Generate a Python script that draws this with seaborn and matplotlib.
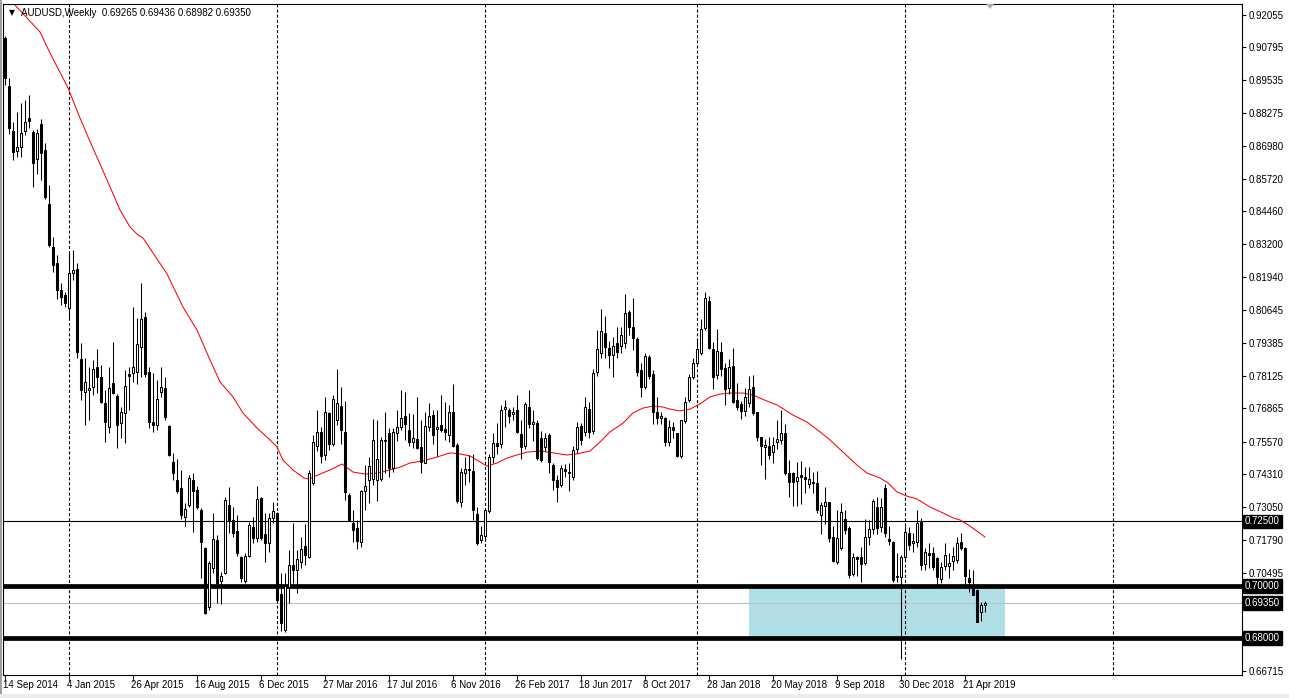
import matplotlib
matplotlib.use("Agg")
import numpy as np
import pandas as pd
import matplotlib.pyplot as plt
import seaborn as sns
from matplotlib.patches import Rectangle, Polygon
from matplotlib.transforms import blended_transform_factory

# ---------------- data ----------------
start_date = "2014-09-14"

opens = [
    0.9116, 0.8930, 0.8757, 0.8680, 0.8695, 0.8757, 0.8807, 0.8753, 0.8649, 0.8784,
    0.8683, 0.8475, 0.8309, 0.8247, 0.8143, 0.8124, 0.8073, 0.8208, 0.8224, 0.7876,
    0.7749, 0.7758, 0.7768, 0.7846, 0.7807, 0.7707, 0.7614, 0.7784, 0.7734, 0.7629,
    0.7668, 0.7819, 0.7822, 0.7826, 0.7923, 0.8039, 0.7826, 0.7633, 0.7622, 0.7749,
    0.7764, 0.7618, 0.7479, 0.7409, 0.7378, 0.7266, 0.7313, 0.7409, 0.7371, 0.7293,
    0.7147, 0.6919, 0.7069, 0.7178, 0.7019, 0.7050, 0.7313, 0.7255, 0.7212, 0.7112,
    0.7019, 0.7116, 0.7228, 0.7185, 0.7340, 0.7201, 0.7166, 0.7263, 0.7282, 0.6969,
    0.6830, 0.6996, 0.7081, 0.7062, 0.7093, 0.7154, 0.7112, 0.7398, 0.7541, 0.7595,
    0.7506, 0.7668, 0.7548, 0.7640, 0.7695, 0.7595, 0.7351, 0.7243, 0.7224, 0.7170,
    0.7367, 0.7409, 0.7413, 0.7409, 0.7413, 0.7560, 0.7591, 0.7456, 0.7591, 0.7614,
    0.7656, 0.7602, 0.7556, 0.7568, 0.7537, 0.7475, 0.7614, 0.7660, 0.7606, 0.7622,
    0.7606, 0.7583, 0.7672, 0.7544, 0.7324, 0.7436, 0.7446, 0.7444, 0.7278, 0.7178,
    0.7193, 0.7290, 0.7498, 0.7552, 0.7548, 0.7683, 0.7680, 0.7664, 0.7680, 0.7587,
    0.7541, 0.7691, 0.7625, 0.7629, 0.7571, 0.7537, 0.7583, 0.7467, 0.7409, 0.7390,
    0.7452, 0.7440, 0.7421, 0.7529, 0.7618, 0.7595, 0.7683, 0.7598, 0.7826, 0.7900,
    0.7977, 0.7919, 0.7892, 0.7938, 0.7927, 0.7938, 0.8058, 0.8000, 0.7954, 0.7834,
    0.7768, 0.7884, 0.7819, 0.7672, 0.7649, 0.7649, 0.7556, 0.7614, 0.7591, 0.7502,
    0.7637, 0.7718, 0.7807, 0.7861, 0.7900, 0.7996, 0.8100, 0.7915, 0.7815, 0.7903,
    0.7842, 0.7764, 0.7849, 0.7718, 0.7703, 0.7676, 0.7707, 0.7768, 0.7672, 0.7575,
    0.7537, 0.7541, 0.7517, 0.7556, 0.7564, 0.7591, 0.7436, 0.7436, 0.7405, 0.7429,
    0.7421, 0.7394, 0.7402, 0.7398, 0.7274, 0.7309, 0.7324, 0.7189, 0.7093, 0.7147,
    0.7259, 0.7224, 0.7046, 0.7112, 0.7112, 0.7089, 0.7189, 0.7220, 0.7305, 0.7228,
    0.7378, 0.7181, 0.7170, 0.7033, 0.7035, 0.7112, 0.7205, 0.7166, 0.7170, 0.7247,
    0.7085, 0.7127, 0.7127, 0.7108, 0.7027, 0.7077, 0.7077, 0.7097, 0.7100, 0.7170,
    0.7147, 0.7031, 0.6988, 0.6985, 0.6900, 0.69265,
]

highs = [
    0.9125, 0.8960, 0.8790, 0.8830, 0.8865, 0.8876, 0.8895, 0.8761, 0.8765, 0.8803,
    0.8710, 0.8548, 0.8347, 0.8278, 0.8170, 0.8135, 0.8286, 0.8297, 0.8247, 0.7940,
    0.7880, 0.7846, 0.7873, 0.7915, 0.7853, 0.7757, 0.7846, 0.7942, 0.7741, 0.7691,
    0.7834, 0.7846, 0.8077, 0.8035, 0.8170, 0.8058, 0.7846, 0.7822, 0.7795, 0.7846,
    0.7807, 0.7622, 0.7514, 0.7490, 0.7448, 0.7320, 0.7429, 0.7436, 0.7386, 0.7300,
    0.7150, 0.7097, 0.7282, 0.7197, 0.7054, 0.7344, 0.7382, 0.7305, 0.7274, 0.7115,
    0.7127, 0.7247, 0.7266, 0.7386, 0.7344, 0.7282, 0.7282, 0.7324, 0.7285, 0.7050,
    0.7050, 0.7139, 0.7243, 0.7139, 0.7189, 0.7241, 0.7448, 0.7583, 0.7680, 0.7614,
    0.7730, 0.7672, 0.7737, 0.7838, 0.7768, 0.7714, 0.7359, 0.7293, 0.7255, 0.7370,
    0.7467, 0.7498, 0.7645, 0.7641, 0.7575, 0.7672, 0.7610, 0.7610, 0.7680, 0.7757,
    0.7749, 0.7668, 0.7664, 0.7730, 0.7641, 0.7672, 0.7707, 0.7680, 0.7680, 0.7737,
    0.7710, 0.7699, 0.7780, 0.7552, 0.7456, 0.7498, 0.7506, 0.7510, 0.7305, 0.7230,
    0.7293, 0.7510, 0.7590, 0.7629, 0.7699, 0.7718, 0.7687, 0.7690, 0.7737, 0.7641,
    0.7710, 0.7757, 0.7680, 0.7640, 0.7600, 0.7590, 0.7591, 0.7475, 0.7429, 0.7467,
    0.7471, 0.7475, 0.7540, 0.7633, 0.7629, 0.7730, 0.7710, 0.7838, 0.7988, 0.8069,
    0.8042, 0.7946, 0.7961, 0.8000, 0.8000, 0.8127, 0.8066, 0.8112, 0.7960, 0.7861,
    0.7900, 0.7890, 0.7834, 0.7730, 0.7672, 0.7653, 0.7641, 0.7633, 0.7591, 0.7641,
    0.7730, 0.7820, 0.7880, 0.7950, 0.8030, 0.8135, 0.8120, 0.7942, 0.7992, 0.7942,
    0.7861, 0.7875, 0.7919, 0.7784, 0.7714, 0.7764, 0.7811, 0.7815, 0.7672, 0.7575,
    0.7568, 0.7575, 0.7575, 0.7641, 0.7680, 0.7625, 0.7486, 0.7440, 0.7479, 0.7483,
    0.7460, 0.7460, 0.7440, 0.7444, 0.7324, 0.7382, 0.7324, 0.7232, 0.7293, 0.7320,
    0.7293, 0.7230, 0.7127, 0.7116, 0.7151, 0.7259, 0.7255, 0.7336, 0.7344, 0.7340,
    0.7394, 0.7232, 0.7172, 0.7127, 0.7120, 0.7232, 0.7228, 0.7205, 0.7293, 0.7263,
    0.7147, 0.7166, 0.7151, 0.7112, 0.7093, 0.7166, 0.7127, 0.7151, 0.7189, 0.7205,
    0.7151, 0.7066, 0.7062, 0.6990, 0.6940, 0.69436,
]

lows = [
    0.8935, 0.8745, 0.8645, 0.8655, 0.8656, 0.8740, 0.8770, 0.8541, 0.8591, 0.8568,
    0.8495, 0.8309, 0.8212, 0.8108, 0.8085, 0.8077, 0.8035, 0.8180, 0.7880, 0.7718,
    0.7622, 0.7641, 0.7737, 0.7745, 0.7707, 0.7556, 0.7591, 0.7740, 0.7533, 0.7571,
    0.7552, 0.7680, 0.7788, 0.7780, 0.7807, 0.7807, 0.7610, 0.7595, 0.7602, 0.7730,
    0.7641, 0.7502, 0.7409, 0.7360, 0.7259, 0.7232, 0.7305, 0.7208, 0.7297, 0.7031,
    0.6892, 0.6907, 0.7050, 0.6934, 0.6931, 0.7048, 0.7205, 0.7189, 0.7115, 0.7015,
    0.7012, 0.7112, 0.7166, 0.7170, 0.7178, 0.7093, 0.7131, 0.7243, 0.6942, 0.6826,
    0.6822, 0.6934, 0.7012, 0.6973, 0.7069, 0.7080, 0.7108, 0.7390, 0.7520, 0.7475,
    0.7486, 0.7525, 0.7540, 0.7620, 0.7548, 0.7332, 0.7251, 0.7170, 0.7143, 0.7151,
    0.7293, 0.7320, 0.7390, 0.7328, 0.7405, 0.7436, 0.7421, 0.7440, 0.7560, 0.7602,
    0.7564, 0.7540, 0.7533, 0.7529, 0.7436, 0.7475, 0.7600, 0.7548, 0.7502, 0.7595,
    0.7564, 0.7556, 0.7537, 0.7320, 0.7305, 0.7390, 0.7400, 0.7255, 0.7158, 0.7166,
    0.7178, 0.7282, 0.7475, 0.7510, 0.7533, 0.7614, 0.7630, 0.7640, 0.7590, 0.7490,
    0.7530, 0.7610, 0.7560, 0.7486, 0.7480, 0.7520, 0.7436, 0.7370, 0.7324, 0.7382,
    0.7420, 0.7367, 0.7410, 0.7515, 0.7545, 0.7580, 0.7570, 0.7585, 0.7810, 0.7880,
    0.7880, 0.7840, 0.7807, 0.7880, 0.7900, 0.7920, 0.7970, 0.7911, 0.7810, 0.7730,
    0.7760, 0.7800, 0.7625, 0.7625, 0.7625, 0.7540, 0.7540, 0.7570, 0.7500, 0.7495,
    0.7630, 0.7710, 0.7800, 0.7850, 0.7890, 0.7990, 0.7915, 0.7761, 0.7800, 0.7810,
    0.7700, 0.7740, 0.7705, 0.7680, 0.7645, 0.7655, 0.7690, 0.7660, 0.7560, 0.7467,
    0.7413, 0.7490, 0.7475, 0.7530, 0.7550, 0.7430, 0.7344, 0.7310, 0.7310, 0.7315,
    0.7360, 0.7380, 0.7360, 0.7280, 0.7200, 0.7240, 0.7170, 0.7093, 0.7085, 0.7140,
    0.7200, 0.7030, 0.7040, 0.7040, 0.7015, 0.7080, 0.7160, 0.7200, 0.7200, 0.7210,
    0.7190, 0.7160, 0.7015, 0.7015, 0.6718, 0.7100, 0.7140, 0.7130, 0.7150, 0.7060,
    0.7060, 0.7070, 0.7060, 0.7003, 0.7010, 0.7060, 0.7030, 0.7060, 0.7090, 0.7140,
    0.6992, 0.6977, 0.6965, 0.6860, 0.6865, 0.68982,
]

closes = [
    0.8960, 0.8768, 0.8676, 0.8695, 0.8749, 0.8792, 0.8795, 0.8633, 0.8749, 0.8672,
    0.8502, 0.8317, 0.8239, 0.8143, 0.8116, 0.8093, 0.8208, 0.8220, 0.7903, 0.7757,
    0.7788, 0.7764, 0.7838, 0.7807, 0.7710, 0.7633, 0.7764, 0.7745, 0.7622, 0.7672,
    0.7772, 0.7811, 0.7846, 0.7934, 0.8031, 0.7819, 0.7633, 0.7622, 0.7722, 0.7768,
    0.7653, 0.7506, 0.7436, 0.7367, 0.7274, 0.7297, 0.7417, 0.7367, 0.7305, 0.7170,
    0.6896, 0.7089, 0.7181, 0.7012, 0.7039, 0.7332, 0.7255, 0.7205, 0.7127, 0.7031,
    0.7116, 0.7236, 0.7185, 0.7336, 0.7185, 0.7166, 0.7263, 0.7290, 0.6946, 0.6857,
    0.7000, 0.7081, 0.7062, 0.7104, 0.7143, 0.7120, 0.7436, 0.7556, 0.7595, 0.7502,
    0.7672, 0.7548, 0.7722, 0.7707, 0.7602, 0.7363, 0.7255, 0.7216, 0.7174, 0.7367,
    0.7386, 0.7463, 0.7564, 0.7490, 0.7564, 0.7564, 0.7456, 0.7595, 0.7614, 0.7649,
    0.7625, 0.7556, 0.7571, 0.7533, 0.7479, 0.7618, 0.7656, 0.7583, 0.7614, 0.7602,
    0.7595, 0.7672, 0.7541, 0.7328, 0.7440, 0.7452, 0.7450, 0.7293, 0.7166, 0.7197,
    0.7293, 0.7498, 0.7552, 0.7541, 0.7680, 0.7691, 0.7656, 0.7672, 0.7595, 0.7537,
    0.7703, 0.7625, 0.7632, 0.7494, 0.7486, 0.7571, 0.7479, 0.7409, 0.7382, 0.7456,
    0.7444, 0.7436, 0.7525, 0.7614, 0.7564, 0.7691, 0.7595, 0.7822, 0.7915, 0.7985,
    0.7923, 0.7892, 0.7927, 0.7903, 0.7969, 0.8054, 0.8000, 0.7958, 0.7826, 0.7768,
    0.7888, 0.7811, 0.7672, 0.7649, 0.7656, 0.7556, 0.7614, 0.7602, 0.7502, 0.7641,
    0.7710, 0.7807, 0.7861, 0.7915, 0.7992, 0.8112, 0.7919, 0.7807, 0.7907, 0.7838,
    0.7761, 0.7846, 0.7710, 0.7691, 0.7676, 0.7730, 0.7761, 0.7668, 0.7575, 0.7541,
    0.7544, 0.7506, 0.7544, 0.7568, 0.7591, 0.7436, 0.7402, 0.7402, 0.7421, 0.7421,
    0.7413, 0.7413, 0.7398, 0.7293, 0.7313, 0.7324, 0.7185, 0.7097, 0.7185, 0.7286,
    0.7216, 0.7042, 0.7112, 0.7104, 0.7085, 0.7189, 0.7220, 0.7328, 0.7224, 0.7305,
    0.7205, 0.7174, 0.7023, 0.7037, 0.7112, 0.7208, 0.7158, 0.7174, 0.7243, 0.7081,
    0.7131, 0.7120, 0.7073, 0.7035, 0.7073, 0.7120, 0.7089, 0.7116, 0.7166, 0.7147,
    0.7039, 0.7015, 0.6965, 0.6861, 0.6927, 0.69350,
]

# 50-week moving average (week index, price)
ma_week = [2.5, 8.75, 11.25, 15.75, 18.75, 20.75, 25.5, 28.75, 31.25, 33.25,
           34.5, 37, 40.5, 44.5, 48, 51.25, 53.75, 57, 59.5, 63,
           66.25, 68, 69.5, 72, 74.75, 76, 78.75, 81.25, 84.25, 87,
           90, 93, 96.25, 98.75, 101.25, 104.5, 108, 111.25, 113.75, 116.25,
           118, 120.5, 123, 125.5, 128, 130.5, 133.75, 137, 140.5, 143,
           146.25, 148.75, 151.25, 154.5, 157, 159.5, 162, 164.5, 166.25, 168.75,
           171.25, 173.75, 176.25, 178.75, 181.25, 184.5, 187, 190.5, 193, 197,
           200.5, 203.75, 206.25, 209.5, 213, 215.5, 218.75, 220.75, 223, 225.5,
           228, 231.25, 234.5, 237, 238.75, 240.5, 243, 245]
ma_value = [0.9243, 0.9139, 0.9058, 0.8923, 0.8807, 0.8734, 0.8568, 0.8452, 0.8386, 0.8355,
            0.8344, 0.8286, 0.8205, 0.8077, 0.7988, 0.7873, 0.7788, 0.7730, 0.7668, 0.7610,
            0.7564, 0.7537, 0.7486, 0.7448, 0.7417, 0.7413, 0.7432, 0.7448, 0.7471, 0.7440,
            0.7432, 0.7436, 0.7448, 0.7459, 0.7475, 0.7483, 0.7498, 0.7514, 0.7510, 0.7502,
            0.7486, 0.7463, 0.7475, 0.7494, 0.7506, 0.7517, 0.7521, 0.7514, 0.7506, 0.7510,
            0.7521, 0.7556, 0.7595, 0.7629, 0.7668, 0.7687, 0.7695, 0.7691, 0.7683, 0.7676,
            0.7683, 0.7703, 0.7730, 0.7741, 0.7745, 0.7745, 0.7737, 0.7714, 0.7699, 0.7660,
            0.7633, 0.7595, 0.7564, 0.7517, 0.7467, 0.7436, 0.7417, 0.7398, 0.7363, 0.7347,
            0.7336, 0.7305, 0.7282, 0.7263, 0.7255, 0.7239, 0.7212, 0.7189]

date_labels = ["14 Sep 2014", "4 Jan 2015", "26 Apr 2015", "16 Aug 2015", "6 Dec 2015",
               "27 Mar 2016", "17 Jul 2016", "6 Nov 2016", "26 Feb 2017", "18 Jun 2017",
               "8 Oct 2017", "28 Jan 2018", "20 May 2018", "9 Sep 2018", "30 Dec 2018",
               "21 Apr 2019"]
separator_dates = ["2015-01-04", "2016-01-03", "2017-01-01", "2018-01-07",
                   "2019-01-06", "2020-01-05"]
price_ticks = [0.92055, 0.90795, 0.89535, 0.88275, 0.86980, 0.85720, 0.84460,
               0.83200, 0.81940, 0.80645, 0.79385, 0.78125, 0.76865, 0.75570,
               0.74310, 0.73050, 0.71790, 0.70495, 0.66715]
thin_level = 0.725
thick_levels = [0.70, 0.68]
current_price = 0.6935
zone_low, zone_high = 0.68, 0.70
zone_weeks = (186, 250)
symbol_title = "AUDUSD,Weekly"
last_ohlc = ["0.69265", "0.69436", "0.68982", "0.69350"]

# ---------------- figure ----------------
sns.set_theme(style="white")
plt.rcParams['font.family'] = ['Liberation Sans', 'DejaVu Sans']
plt.rcParams['lines.scale_dashes'] = False

W, H = 1289, 698
fig = plt.figure(figsize=(W / 100, H / 100), dpi=100)
fig.patch.set_facecolor("white")
ax = fig.add_axes([3 / W, (H - 675) / H, (1242 - 3) / W, (675 - 4) / H])
ax.set_facecolor("white")

t0 = pd.Timestamp(start_date)
df = pd.DataFrame({"open": opens, "high": highs, "low": lows, "close": closes})
df["date"] = pd.date_range(t0, periods=len(df), freq="7D")
df["week"] = ((df["date"] - t0).dt.days / 7).astype(float)

def week_of(d):
    return (pd.Timestamp(d) - t0).days / 7.0

# zone box
ax.add_patch(Rectangle((zone_weeks[0], zone_low), zone_weeks[1] - zone_weeks[0],
                       zone_high - zone_low, facecolor="#b0e0e6", edgecolor="none", zorder=0.5))

# horizontal levels
ax.axhline(current_price, color="#c0c0c0", lw=0.8, zorder=0.8)
ax.axhline(thin_level, color="black", lw=0.8, zorder=1)
for lv in thick_levels:
    ax.axhline(lv, color="black", lw=3.4, zorder=1, solid_capstyle="butt")

# period separators
for d in separator_dates:
    ax.axvline(week_of(d), color="black", lw=0.8, ls=(0, (2.2, 1.5)), zorder=1)

# moving average
ma_df = pd.DataFrame({"week": ma_week, "ma": ma_value})
sns.lineplot(data=ma_df, x="week", y="ma", ax=ax, color="red", linewidth=0.75,
             zorder=2, legend=False, sort=True)

# candles
up = df["close"] >= df["open"]
ax.vlines(df["week"], df["low"], df["high"], color="black", linewidth=0.75, zorder=3)
body_bottom = np.minimum(df["open"], df["close"])
body_h = np.maximum(np.abs(df["close"] - df["open"]), 0.00004)
ax.bar(df["week"], body_h, bottom=body_bottom, width=0.5,
       color=np.where(up, "white", "black"), edgecolor="black", linewidth=0.75, zorder=4)

# axes limits
ax.set_xlim(-0.5, 309.25)
ax.set_ylim(0.66564, 0.92471)
ax.set_xlabel("")
ax.set_ylabel("")

for s in ax.spines.values():
    s.set_color("black")
    s.set_linewidth(0.8)

# y axis on right
ax.yaxis.tick_right()
ax.set_yticks(price_ticks)
ax.set_yticklabels([f"{v:.5f}" for v in price_ticks])
ax.tick_params(axis="y", direction="out", length=3, width=0.8, pad=2,
               labelsize=7, colors="black", right=True, left=False)

# x axis
label_weeks = [week_of(pd.Timestamp(s)) for s in date_labels]
ax.set_xticks(label_weeks)
ax.set_xticklabels([])
ax.tick_params(axis="x", direction="out", length=4, width=0.8, bottom=True)
tx = blended_transform_factory(ax.transData, ax.transAxes)
for wk, s in zip(label_weeks, date_labels):
    ax.text(wk - 0.5, -10 / 671, s, transform=tx, ha="left", va="center",
            fontsize=7, color="black")

# highlighted price labels
ty = blended_transform_factory(ax.transAxes, ax.transData)
for lv in [thin_level] + thick_levels + [current_price]:
    ax.text(1.0024, lv, f"{lv:.5f}", transform=ty, ha="left", va="center",
            fontsize=7, color="white", zorder=10,
            bbox=dict(boxstyle="square,pad=0.18", facecolor="black", edgecolor="black"))

# title
fig.text(9 / W, 1 - 12.5 / H, "\u25bc", fontsize=5.5, va="center", ha="left",
         family=["DejaVu Sans"], color="black")
fig.text(21 / W, 1 - 12.5 / H, symbol_title + "  " + " ".join(last_ohlc),
         fontsize=7, va="center", ha="left", color="black")

# window chrome
fig.patches.append(Rectangle((0, 0), 2 / W, 1, transform=fig.transFigure,
                             facecolor="#a0a0a0", edgecolor="none"))
fig.patches.append(Rectangle((0, 0), 1, 4 / H, transform=fig.transFigure,
                             facecolor="#ececec", edgecolor="none"))
fig.patches.append(Polygon([(986 / W, 1 - 4 / H), (994 / W, 1 - 4 / H), (990 / W, 1 - 9 / H)],
                           closed=True, transform=fig.transFigure,
                           facecolor="#b0b0b0", edgecolor="none"))

fig.savefig("out.png", dpi=100)
